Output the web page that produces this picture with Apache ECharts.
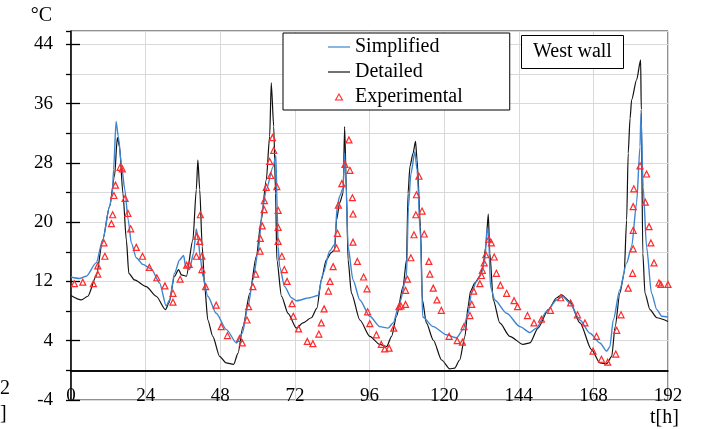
<!DOCTYPE html>
<html>
<head>
<meta charset="utf-8">
<script src="https://cdn.jsdelivr.net/npm/echarts@6/dist/echarts.min.js"></script>
<style>html,body{margin:0;padding:0;background:#fff;}#c{width:705px;height:429px;}</style>
</head>
<body>
<div id="c"></div>
<script>
// ---- data (t [h], temperature [°C]) ----
const xTicks = [0, 24, 48, 72, 96, 120, 144, 168, 192];
const yTickLabels = [-4, 4, 12, 20, 28, 36, 44];
const seriesNames = ['Simplified', 'Detailed', 'Experimental'];

const simplified = [[0,12.6],[2.7,12.4],[4.9,12.7],[8.1,14.5],[10.2,17.6],[12.4,22.1],[13.3,23.9],[13.7,27.1],[14.5,33.6],[15.2,31.6],[16.3,27.5],[17.3,24.4],[18.4,20.3],[19.4,17.2],[21.0,15.2],[23.1,14.3],[25.8,13.7],[28.5,11.8],[30.6,8.7],[31.7,9.5],[33.3,13.1],[34.9,14.9],[36.2,15.5],[36.9,14.0],[38.1,13.6],[39.4,15.8],[40.3,19.1],[40.9,17.6],[41.6,15.2],[42.4,12.7],[44.0,10.0],[46.7,7.7],[50.0,5.5],[53.2,3.7],[55.1,5.0],[56.9,8.6],[58.5,12.2],[60.1,15.8],[61.7,22.1],[62.8,24.4],[65.0,27.5],[65.9,29.0],[66.3,22.0],[66.6,16.7],[67.1,14.0],[68.7,11.3],[70.9,9.8],[72.5,9.4],[76.8,9.8],[79.4,10.1],[81.1,13.1],[83.2,16.1],[84.8,17.0],[85.6,22.1],[86.4,23.5],[87.5,24.6],[88.0,29.3],[88.4,25.7],[89.1,16.7],[90.7,12.2],[92.9,9.5],[96.1,7.3],[99.3,5.9],[102.0,5.7],[103.6,6.4],[105.7,9.1],[107.9,12.7],[108.5,22.0],[109.3,26.5],[110.6,29.5],[111.3,27.0],[112.4,18.0],[113.1,7.2],[116.5,5.9],[120.8,4.8],[124.0,4.4],[126.1,5.5],[127.7,7.7],[128.8,10.4],[130.4,12.0],[132.0,13.1],[133.1,14.9],[133.8,19.2],[134.3,18.5],[134.9,11.3],[136.3,9.5],[140.1,7.7],[144.4,5.9],[147.6,5.1],[149.7,5.7],[153.0,8.0],[156.2,9.5],[158.1,10.0],[160.4,9.1],[163.7,6.8],[166.9,5.0],[170.1,3.7],[172.3,2.6],[173.3,3.2],[174.4,6.8],[176.5,10.9],[178.7,14.5],[180.3,16.7],[181.9,22.6],[183.0,30.2],[183.3,34.6],[184.0,24.8],[185.1,16.7],[186.7,10.4],[188.4,8.2],[190.0,7.3],[192,7.2]];

const detailed = [[0,10.1],[3.3,9.5],[5.4,10.0],[8.1,12.7],[10.2,17.6],[12.4,22.1],[14.0,26.2],[14.9,31.4],[15.6,30.2],[16.7,23.9],[17.8,17.6],[18.6,13.1],[20.4,12.2],[24.2,11.3],[27.4,10.0],[30.4,8.2],[31.5,9.1],[33.3,12.7],[34.6,13.6],[35.5,12.9],[37.1,12.7],[39.2,17.6],[40.3,24.4],[40.8,28.4],[41.4,24.4],[42.2,16.7],[43.0,11.3],[44.0,6.8],[45.6,4.6],[47.8,1.9],[49.9,1.0],[52.3,0.8],[53.7,2.3],[55.3,5.9],[57.5,10.4],[59.6,15.4],[61.2,20.3],[62.8,25.7],[63.9,31.6],[64.4,38.8],[65.2,32.9],[65.8,23.9],[66.2,14.9],[67.7,10.0],[69.8,7.7],[72.5,5.7],[74.6,6.4],[77.3,7.1],[79.1,8.4],[80.5,12.2],[82.1,14.9],[83.7,15.9],[84.8,16.3],[85.4,20.3],[86.4,22.6],[87.5,23.9],[88.0,32.9],[88.6,23.9],[89.1,14.9],[90.2,10.4],[92.9,6.8],[96.1,4.6],[99.3,3.5],[101.5,3.2],[103.1,4.6],[104.7,7.3],[106.8,11.3],[107.9,14.9],[108.4,23.9],[109.0,27.5],[110.0,29.3],[110.8,30.9],[111.3,28.4],[112.4,19.4],[113.0,9.5],[114.3,6.4],[116.5,4.1],[119.2,1.4],[121.8,0.2],[123.4,0.3],[125.0,1.4],[126.7,4.6],[127.7,8.6],[128.5,10.7],[129.9,11.8],[131.5,12.7],[132.5,14.0],[133.4,16.7],[134.2,21.1],[134.7,15.8],[135.8,9.5],[137.9,6.4],[141.1,4.6],[145.4,3.5],[147.6,3.7],[150.2,5.7],[153.5,8.2],[156.2,9.8],[157.8,10.2],[160.4,9.3],[163.7,6.4],[167.4,2.8],[170.1,1.0],[172.3,0.9],[173.9,1.9],[175.0,5.9],[176.5,10.4],[177.9,13.1],[178.7,20.3],[179.2,29.3],[179.8,34.0],[180.3,36.5],[181.9,39.2],[183.2,41.9],[183.4,35.2],[183.9,15.8],[184.6,10.4],[186.2,8.2],[188.4,7.1],[192,6.6]];

const experimental = [[1.1,11.7],[3.8,11.9],[7.2,11.7],[8.6,13.0],[8.6,14.1],[10.6,17.2],[10.9,15.4],[13.0,19.8],[13.4,21.0],[13.8,23.6],[14.3,25.0],[15.8,27.4],[16.5,27.2],[17.4,23.2],[18.3,21.2],[19.2,19.1],[21.0,16.6],[23.0,15.4],[25.2,13.9],[27.6,12.5],[30.2,11.4],[32.8,10.4],[32.8,9.2],[35.1,12.3],[37.2,14.2],[38.0,14.3],[40.3,15.4],[40.5,18.1],[41.4,17.4],[41.6,21.0],[42.1,15.4],[42.1,13.6],[43.3,11.3],[46.7,8.8],[48.3,5.9],[50.3,4.7],[54.2,4.3],[55.1,3.7],[56.6,6.8],[57.1,8.6],[58.5,11.3],[59.4,13.0],[60.8,16.1],[60.9,17.8],[61.5,19.5],[62.1,21.7],[62.2,22.9],[62.8,24.7],[63.9,28.2],[64.2,26.3],[64.8,31.4],[65.2,29.7],[66.2,24.8],[66.6,21.6],[66.6,19.3],[66.6,17.4],[67.8,15.4],[68.6,13.6],[69.5,12.0],[71.1,9.0],[71.5,7.3],[73.2,5.6],[76.0,3.9],[77.8,3.6],[79.7,4.9],[80.5,6.4],[81.4,8.3],[82.8,10.7],[83.3,12.0],[84.3,14.0],[85.4,16.5],[85.7,18.5],[86.0,22.3],[87.1,25.2],[88.1,27.8],[89.4,31.1],[89.7,27.0],[90.5,23.3],[90.7,21.1],[90.7,17.3],[92.1,14.7],[94.1,12.6],[95.2,11.0],[95.4,7.9],[96.1,6.3],[98.2,4.8],[99.8,3.5],[100.9,2.9],[102.3,3.0],[103.8,5.7],[105.5,8.6],[106.1,8.7],[107.6,8.9],[107.6,10.8],[108.2,12.3],[109.3,15.2],[110.3,18.3],[110.9,21.0],[111.1,23.7],[111.9,26.2],[112.9,21.5],[113.6,18.4],[115.1,14.7],[115.4,13.0],[116.5,11.1],[117.7,9.5],[119.1,8.1],[121.6,4.6],[124.2,4.0],[125.9,3.8],[126.4,5.9],[128.3,7.4],[128.9,8.9],[129.5,10.7],[131.5,11.7],[132.0,12.8],[132.3,13.5],[132.9,14.5],[133.4,15.6],[134.4,17.7],[135.2,17.2],[136.1,15.3],[136.8,13.1],[138.1,11.5],[140.1,10.4],[142.5,9.4],[143.6,8.6],[146.8,7.4],[148.9,6.4],[151.3,6.9],[154.2,8.1],[157.5,9.8],[160.7,9.1],[162.9,7.5],[165.3,6.4],[167.9,2.6],[169.0,4.6],[170.6,1.5],[172.6,1.1],[175.2,2.2],[175.5,5.4],[176.9,7.5],[179.2,11.1],[180.6,13.1],[180.8,16.4],[180.8,18.9],[180.8,22.1],[181.0,24.5],[183.0,27.6],[184.7,22.7],[185.1,26.5],[185.9,19.4],[186.5,17.2],[187.5,14.5],[189.1,11.8],[189.7,11.6],[192.0,11.6]];

// ---- chart ----
const FONT = 'Liberation Serif';
const Y_MIN = -4, Y_MAX = 45.8;
const BLUE = '#3d85d0', BLACK = '#111', RED = '#ff2a2a';
const LINE_ICON = 'path://M0,0H44V2.4H0Z';
const TRI_ICON = 'path://M3,0L6,5.2H0Z';
const chart = echarts.init(document.getElementById('c'), null, {renderer: 'canvas'});
chart.setOption({
  animation: false,
  backgroundColor: '#fff',
  textStyle: {fontFamily: FONT},
  grid: {left: 71, right: 37, top: 31, bottom: 29, show: true, borderColor: '#222', borderWidth: 1, backgroundColor: 'transparent'},
  title: {
    text: 'West wall', left: 521, top: 35,
    borderColor: '#000', borderWidth: 1, backgroundColor: '#fff',
    padding: [5, 12, 5, 12],
    textStyle: {fontFamily: FONT, fontSize: 20, fontWeight: 'normal', color: '#000', lineHeight: 24}
  },
  legend: {
    data: [
      {name: seriesNames[0], icon: LINE_ICON, itemStyle: {color: BLUE, borderWidth: 0}},
      {name: seriesNames[1], icon: LINE_ICON, itemStyle: {color: BLACK, borderWidth: 0}},
      {name: seriesNames[2], icon: TRI_ICON, itemStyle: {color: 'rgba(255,255,255,0)', borderColor: RED, borderWidth: 1.1}}
    ],
    orient: 'vertical', left: 283, top: 33,
    borderColor: '#000', borderWidth: 1, backgroundColor: '#fff',
    padding: [3, 47, 2, 45],
    itemWidth: 22, itemHeight: 6, itemGap: 3,
    textStyle: {fontFamily: FONT, fontSize: 20, color: '#000', lineHeight: 22}
  },
  xAxis: {
    type: 'value', min: xTicks[0], max: xTicks[xTicks.length - 1], interval: 24,
    axisLine: {lineStyle: {color: '#000', width: 1.5}},
    axisTick: {show: false},
    axisLabel: {margin: -14, color: '#000', fontFamily: FONT, fontSize: 19, lineHeight: 20,
      formatter: v => xTicks.indexOf(v) >= 0 ? String(v) : ''},
    splitLine: {show: true, lineStyle: {color: '#d9d9d9', width: 1}}
  },
  yAxis: [
    {
      type: 'value', min: Y_MIN, max: Y_MAX, interval: 4, position: 'left',
      axisLine: {show: true, lineStyle: {color: '#000', width: 1.5}},
      axisTick: {show: true, inside: false, length: 5, lineStyle: {color: '#000', width: 1.3}},
      axisLabel: {show: false},
      splitLine: {show: true, lineStyle: {color: '#d9d9d9', width: 1}}
    },
    {
      type: 'value', min: Y_MIN, max: Y_MAX, interval: 8, position: 'left',
      axisLine: {show: false},
      axisTick: {show: true, inside: true, length: 9, lineStyle: {color: '#000', width: 1.3}},
      axisLabel: {show: true, margin: 18, color: '#000', fontFamily: FONT, fontSize: 19, showMaxLabel: false,
        formatter: v => yTickLabels.indexOf(v) >= 0 ? String(v) : ''},
      splitLine: {show: false}
    }
  ],
  graphic: [
    {type: 'text', right: 705 - 52, top: 6, style: {text: '°C', font: '20px "Liberation Serif"', fill: '#000'}},
    {type: 'text', left: 650, top: 408, style: {text: 't[h]', font: '20px "Liberation Serif"', fill: '#000'}},
    {type: 'text', left: 0, top: 379, style: {text: '2', font: '20px "Liberation Serif"', fill: '#000'}},
    {type: 'text', left: 0, top: 404, style: {text: ']', font: '20px "Liberation Serif"', fill: '#000'}}
  ],
  series: [
    {
      name: seriesNames[0], type: 'line', data: simplified, yAxisIndex: 0,
      symbol: 'none', smooth: 0.25, smoothMonotone: 'x', z: 4,
      itemStyle: {color: BLUE},
      lineStyle: {color: BLUE, width: 1.4}
    },
    {
      name: seriesNames[1], type: 'line', data: detailed, yAxisIndex: 0,
      symbol: 'none', smooth: 0.25, smoothMonotone: 'x', z: 3,
      itemStyle: {color: BLACK},
      lineStyle: {color: BLACK, width: 1.2},
      markLine: {
        silent: true, symbol: 'none', label: {show: false}, animation: false,
        lineStyle: {color: '#000', width: 1.5, type: 'solid'},
        data: [{yAxis: 0}]
      }
    },
    {
      name: seriesNames[2], type: 'scatter', data: experimental, yAxisIndex: 0,
      symbol: 'triangle', symbolSize: 6, z: 5,
      itemStyle: {color: 'rgba(255,255,255,0)', borderColor: RED, borderWidth: 1.2, opacity: 1}
    }
  ]
});
</script>
</body>
</html>
